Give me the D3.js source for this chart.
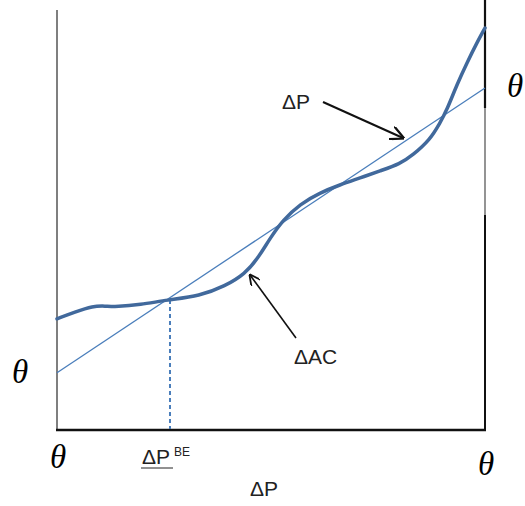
<!DOCTYPE html>
<html>
<head>
<meta charset="utf-8">
<script src="https://cdn.jsdelivr.net/npm/d3@7"></script>
<style>
  body { margin: 0; background: #fff; }
  svg { display: block; }
</style>
</head>
<body>
<script>
// curve (ΔAC), x and y both on a 0..100 scale
var curveX = [0, 4.2, 8.4, 11.2, 14, 19.4, 25.7, 33.4, 39.3, 43.9, 47.0, 49.8, 52.8, 56.8, 61.4, 66.1, 70.8, 75.5, 80.1, 83.2, 87.1, 89.5, 91.1, 93.5, 95.8, 98.1, 100];
var curveY = [27.8, 29.5, 31, 31, 30.8, 31.3, 32.5, 33.5, 36, 39, 43, 48, 52.5, 56.5, 59.3, 61.3, 63, 64.8, 66.5, 68.8, 72.5, 76.8, 80, 86.5, 91.8, 96.8, 100.5];
// straight line (ΔP)
var lineX = [0, 100];
var lineY = [14.3, 85.5];
// break-even point
var breakEvenX = 25.7;
var breakEvenY = 32.5;

var svgWidth = 525;
var svgHeight = 506;

var svg = d3.select("body")
            .append("svg")
            .attr("width", svgWidth)
            .attr("height", svgHeight);

var xScale = d3.scaleLinear()
            .domain([0, 100])
            .range([57, 485]);
var yScale = d3.scaleLinear()
            .domain([0, 100])
            .range([430, 30]);

// frame
svg.append("line")
   .attr("x1", xScale(0)).attr("x2", xScale(0))
   .attr("y1", 10).attr("y2", yScale(0))
   .attr("stroke", "#555").attr("stroke-width", 1.5);

svg.append("line")
   .attr("x1", xScale(100)).attr("x2", xScale(100))
   .attr("y1", 0).attr("y2", 108)
   .attr("stroke", "#111").attr("stroke-width", 2.2);
svg.append("line")
   .attr("x1", xScale(100)).attr("x2", xScale(100))
   .attr("y1", 108).attr("y2", 215)
   .attr("stroke", "#666").attr("stroke-width", 1.4);
svg.append("line")
   .attr("x1", xScale(100)).attr("x2", xScale(100))
   .attr("y1", 215).attr("y2", yScale(0))
   .attr("stroke", "#111").attr("stroke-width", 2);

svg.append("line")
   .attr("x1", xScale(0) - 1).attr("x2", xScale(100) + 1)
   .attr("y1", yScale(0)).attr("y2", yScale(0))
   .attr("stroke", "#111").attr("stroke-width", 2.5);

// dashed break-even line
svg.append("line")
   .attr("x1", xScale(breakEvenX) + 3).attr("x2", xScale(breakEvenX) + 3)
   .attr("y1", yScale(breakEvenY)).attr("y2", yScale(0) - 1)
   .attr("stroke", "#4a7ebb").attr("stroke-width", 2)
   .attr("stroke-dasharray", "4,3");

// straight line
svg.append("line")
   .attr("x1", xScale(lineX[0])).attr("y1", yScale(lineY[0]))
   .attr("x2", xScale(lineX[1])).attr("y2", yScale(lineY[1]))
   .attr("stroke", "#4a7ebb").attr("stroke-width", 1.3);

// curve
var curveData = curveX.map(function(x, i) { return {x: x, y: curveY[i]}; });
var line = d3.line()
             .x(d => xScale(d.x))
             .y(d => yScale(d.y))
             .curve(d3.curveBasis);

svg.append("path")
   .datum(curveData)
   .attr("d", line)
   .attr("fill", "none")
   .attr("stroke", "#41699c")
   .attr("stroke-width", 3.5)
   .attr("stroke-linecap", "round");

// arrows
svg.append("defs").append("marker")
   .attr("id", "head")
   .attr("viewBox", "0 0 10 10")
   .attr("refX", 9).attr("refY", 5)
   .attr("markerWidth", 7).attr("markerHeight", 7)
   .attr("orient", "auto")
   .append("path")
   .attr("d", "M0,0 L10,5 L0,10")
   .attr("fill", "none")
   .attr("stroke", "#111")
   .attr("stroke-width", 1.6);

svg.append("line")
   .attr("x1", 323).attr("y1", 102)
   .attr("x2", 403).attr("y2", 138)
   .attr("stroke", "#111").attr("stroke-width", 2)
   .attr("marker-end", "url(#head)");

svg.append("line")
   .attr("x1", 296).attr("y1", 338)
   .attr("x2", 250).attr("y2", 275)
   .attr("stroke", "#111").attr("stroke-width", 1.6)
   .attr("marker-end", "url(#head)");

// labels
var sans = "'Liberation Sans', Arial, sans-serif";
var serif = "'Liberation Serif', 'Times New Roman', serif";

var thetaLabels = [
  {x: 20, y: 383},
  {x: 58, y: 468},
  {x: 486, y: 475},
  {x: 515, y: 97}
];
svg.selectAll(".theta")
   .data(thetaLabels)
   .enter()
   .append("text")
   .attr("class", "theta")
   .attr("x", d => d.x)
   .attr("y", d => d.y)
   .attr("text-anchor", "middle")
   .style("font-family", serif)
   .style("font-style", "italic")
   .style("font-size", "33px")
   .text("θ");

var deltaLabels = [
  {x: 282, y: 109, text: "ΔP"},
  {x: 294, y: 364, text: "ΔAC"},
  {x: 142, y: 464, text: "ΔP"},
  {x: 250, y: 496, text: "ΔP"}
];
svg.selectAll(".delta")
   .data(deltaLabels)
   .enter()
   .append("text")
   .attr("class", "delta")
   .attr("x", d => d.x)
   .attr("y", d => d.y)
   .style("font-family", sans)
   .style("font-size", "21px")
   .style("fill", "#222")
   .text(d => d.text);

svg.append("text")
   .attr("x", 174).attr("y", 456)
   .style("font-family", sans)
   .style("font-size", "12px")
   .style("fill", "#222")
   .text("BE");

svg.append("line")
   .attr("x1", 141).attr("x2", 173)
   .attr("y1", 468).attr("y2", 468)
   .attr("stroke", "#222").attr("stroke-width", 1);
</script>
</body>
</html>
